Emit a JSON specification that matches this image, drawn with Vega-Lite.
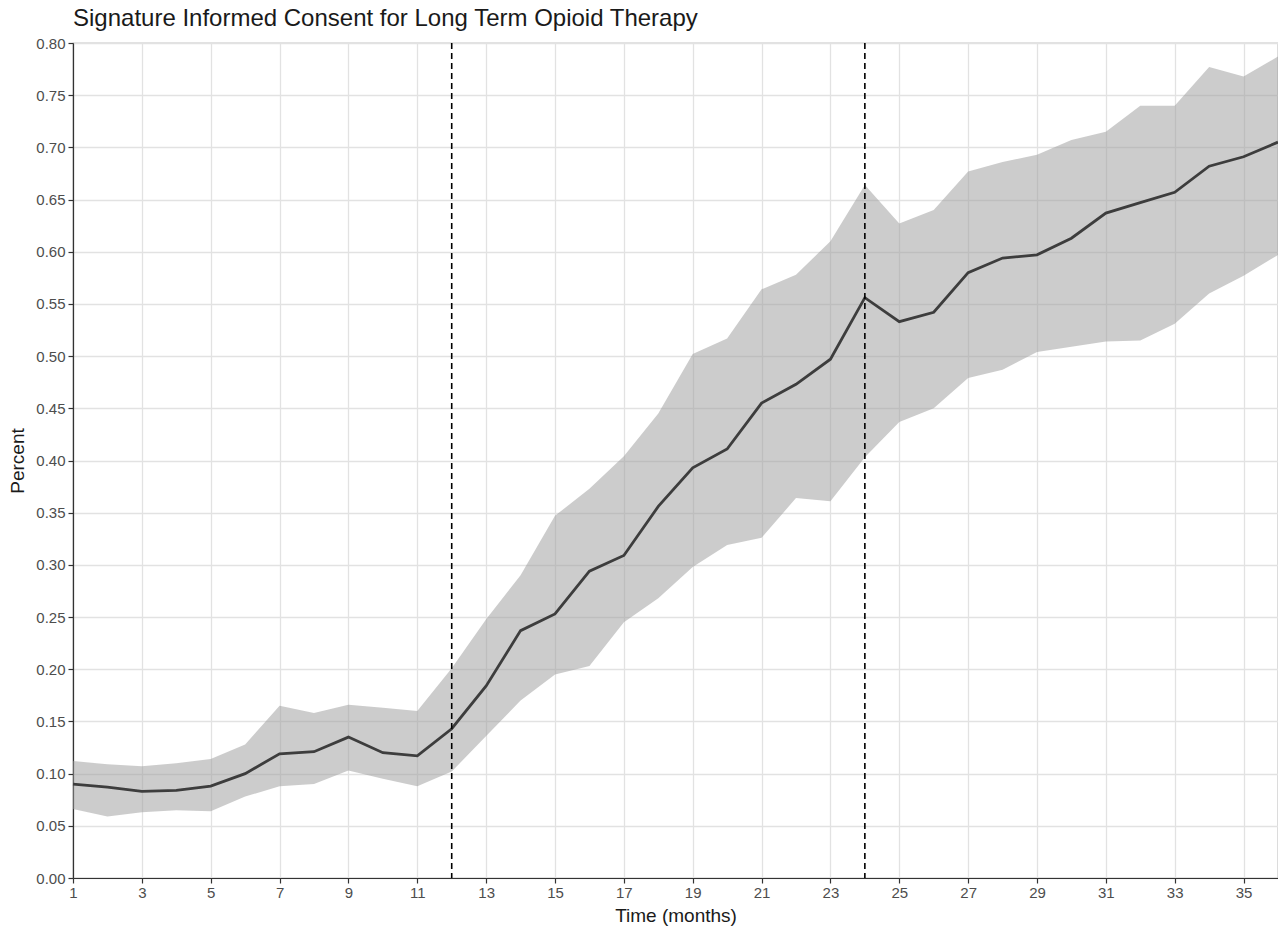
{
  "$schema": "https://vega.github.io/schema/vega-lite/v6.json",
  "width": 1205,
  "height": 835,
  "autosize": {"type": "none"},
  "padding": {"left": 73, "top": 43, "right": 0, "bottom": 51},
  "background": "white",
  "config": {
    "font": "Liberation Sans",
    "view": {"stroke": "#8a8a8a", "strokeWidth": 1.2}
  },
  "title": {
    "text": "Signature Informed Consent for Long Term Opioid Therapy",
    "anchor": "start",
    "frame": "group",
    "font": "Liberation Sans",
    "fontSize": 24,
    "fontWeight": "normal",
    "color": "#1a1a1a",
    "offset": 5
  },
  "datasets": {
    "series": [
      {"month": 1, "pct": 0.090, "lower": 0.066, "upper": 0.112},
      {"month": 2, "pct": 0.087, "lower": 0.059, "upper": 0.109},
      {"month": 3, "pct": 0.083, "lower": 0.063, "upper": 0.107},
      {"month": 4, "pct": 0.084, "lower": 0.065, "upper": 0.110},
      {"month": 5, "pct": 0.088, "lower": 0.064, "upper": 0.114},
      {"month": 6, "pct": 0.100, "lower": 0.078, "upper": 0.128},
      {"month": 7, "pct": 0.119, "lower": 0.088, "upper": 0.165},
      {"month": 8, "pct": 0.121, "lower": 0.090, "upper": 0.158},
      {"month": 9, "pct": 0.135, "lower": 0.103, "upper": 0.166},
      {"month": 10, "pct": 0.120, "lower": 0.095, "upper": 0.163},
      {"month": 11, "pct": 0.117, "lower": 0.088, "upper": 0.160},
      {"month": 12, "pct": 0.143, "lower": 0.102, "upper": 0.201},
      {"month": 13, "pct": 0.184, "lower": 0.136, "upper": 0.248},
      {"month": 14, "pct": 0.237, "lower": 0.170, "upper": 0.290},
      {"month": 15, "pct": 0.253, "lower": 0.195, "upper": 0.347},
      {"month": 16, "pct": 0.294, "lower": 0.203, "upper": 0.373},
      {"month": 17, "pct": 0.309, "lower": 0.245, "upper": 0.404},
      {"month": 18, "pct": 0.356, "lower": 0.268, "upper": 0.445},
      {"month": 19, "pct": 0.393, "lower": 0.298, "upper": 0.502},
      {"month": 20, "pct": 0.411, "lower": 0.319, "upper": 0.517},
      {"month": 21, "pct": 0.455, "lower": 0.326, "upper": 0.564},
      {"month": 22, "pct": 0.473, "lower": 0.364, "upper": 0.578},
      {"month": 23, "pct": 0.497, "lower": 0.361, "upper": 0.610},
      {"month": 24, "pct": 0.556, "lower": 0.403, "upper": 0.664},
      {"month": 25, "pct": 0.533, "lower": 0.437, "upper": 0.627},
      {"month": 26, "pct": 0.542, "lower": 0.450, "upper": 0.640},
      {"month": 27, "pct": 0.580, "lower": 0.479, "upper": 0.677},
      {"month": 28, "pct": 0.594, "lower": 0.487, "upper": 0.686},
      {"month": 29, "pct": 0.597, "lower": 0.504, "upper": 0.693},
      {"month": 30, "pct": 0.613, "lower": 0.509, "upper": 0.707},
      {"month": 31, "pct": 0.637, "lower": 0.514, "upper": 0.715},
      {"month": 32, "pct": 0.647, "lower": 0.515, "upper": 0.740},
      {"month": 33, "pct": 0.657, "lower": 0.531, "upper": 0.740},
      {"month": 34, "pct": 0.682, "lower": 0.560, "upper": 0.777},
      {"month": 35, "pct": 0.691, "lower": 0.577, "upper": 0.768},
      {"month": 36, "pct": 0.705, "lower": 0.597, "upper": 0.787}
    ],
    "vlines": [{"month": 12}, {"month": 24}]
  },
  "layer": [
    {
      "data": {"name": "series"},
      "mark": {"type": "area", "color": "#999999", "opacity": 0.5},
      "encoding": {
        "x": {
          "field": "month",
          "type": "quantitative",
          "scale": {"domain": [1, 36], "nice": false, "zero": false},
          "axis": {
            "title": "Time (months)",
            "values": [1,2,3,4,5,6,7,8,9,10,11,12,13,14,15,16,17,18,19,20,21,22,23,24,25,26,27,28,29,30,31,32,33,34,35,36],
            "labelExpr": "datum.value % 2 == 1 ? datum.label : ''",
            "grid": true,
            "gridColor": {"condition": {"test": "datum.value % 2 == 1", "value": "#e2e2e2"}, "value": "#ececec"},
            "gridWidth": {"condition": {"test": "datum.value % 2 == 1", "value": 1.3}, "value": 0.9},
            "tickOpacity": {"condition": {"test": "datum.value % 2 == 1", "value": 1}, "value": 0},
            "tickColor": "#333333",
            "tickSize": 5,
            "tickWidth": 1.2,
            "domainColor": "#333333",
            "domainWidth": 1.2,
            "labelColor": "#4d4d4d",
            "labelFont": "Liberation Sans",
            "labelFontSize": 15,
            "labelPadding": 2,
            "labelFlush": false,
            "titleFont": "Liberation Sans",
            "titleFontSize": 19,
            "titleFontWeight": "normal",
            "titleColor": "#1a1a1a",
            "titlePadding": 6
          }
        },
        "y": {
          "field": "upper",
          "type": "quantitative",
          "scale": {"domain": [0, 0.8], "nice": false},
          "axis": {
            "title": "Percent",
            "values": [0,0.025,0.05,0.075,0.1,0.125,0.15,0.175,0.2,0.225,0.25,0.275,0.3,0.325,0.35,0.375,0.4,0.425,0.45,0.475,0.5,0.525,0.55,0.575,0.6,0.625,0.65,0.675,0.7,0.725,0.75,0.775,0.8],
            "format": ".2f",
            "labelExpr": "round(datum.value * 1000) % 50 == 0 ? datum.label : ''",
            "grid": true,
            "gridColor": {"condition": {"test": "round(datum.value * 1000) % 50 == 0", "value": "#e2e2e2"}, "value": "#ececec"},
            "gridWidth": {"condition": {"test": "round(datum.value * 1000) % 50 == 0", "value": 1.3}, "value": 0.9},
            "tickOpacity": {"condition": {"test": "round(datum.value * 1000) % 50 == 0", "value": 1}, "value": 0},
            "tickColor": "#333333",
            "tickSize": 5,
            "tickWidth": 1.2,
            "domainColor": "#333333",
            "domainWidth": 1.2,
            "labelColor": "#4d4d4d",
            "labelFont": "Liberation Sans",
            "labelFontSize": 15,
            "labelPadding": 3,
            "labelFlush": false,
            "titleFont": "Liberation Sans",
            "titleFontSize": 19,
            "titleFontWeight": "normal",
            "titleColor": "#1a1a1a",
            "titlePadding": 8
          }
        },
        "y2": {"field": "lower"}
      }
    },
    {
      "data": {"name": "series"},
      "mark": {"type": "line", "color": "#3d3d3d", "strokeWidth": 2.8},
      "encoding": {
        "x": {"field": "month", "type": "quantitative"},
        "y": {"field": "pct", "type": "quantitative"}
      }
    },
    {
      "data": {"name": "vlines"},
      "mark": {"type": "rule", "color": "#000000", "strokeDash": [6, 4], "strokeWidth": 1.6},
      "encoding": {
        "x": {"field": "month", "type": "quantitative"}
      }
    }
  ]
}
